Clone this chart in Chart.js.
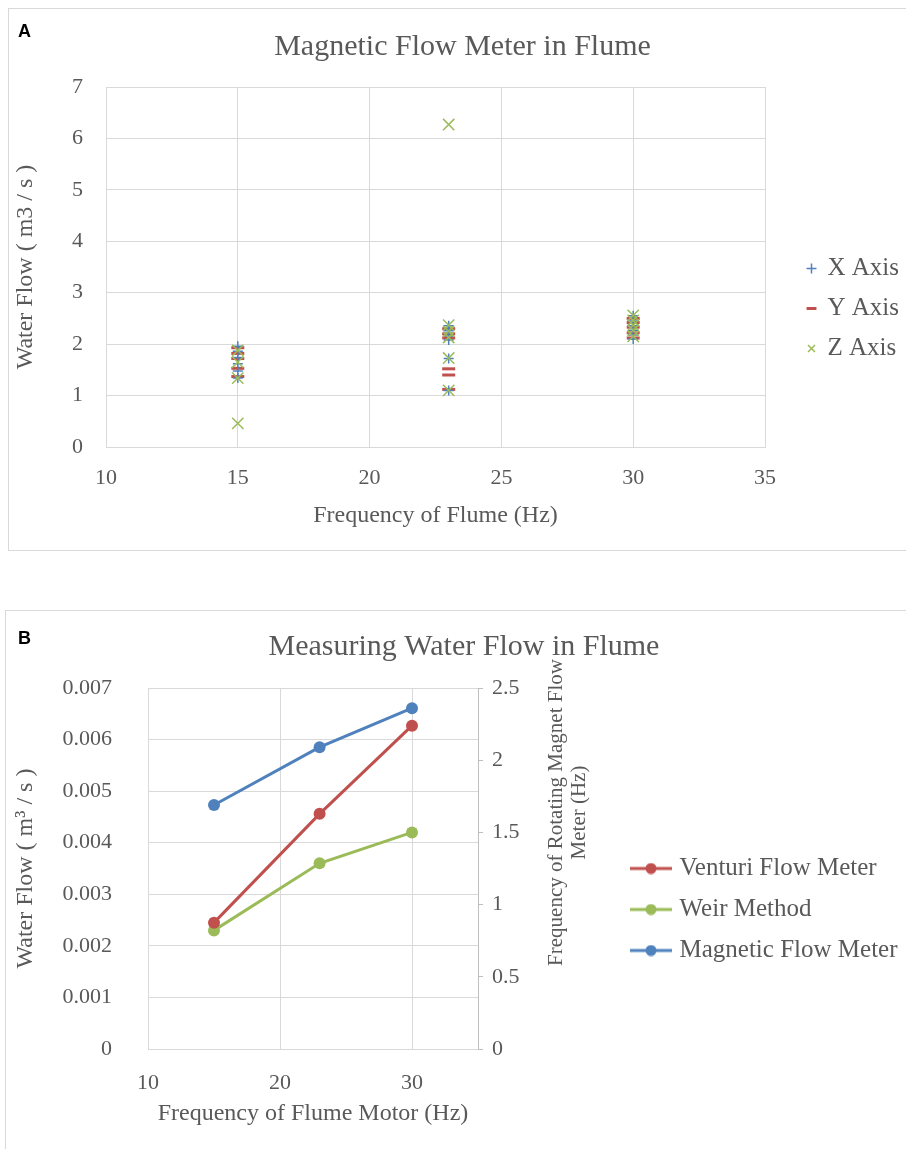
<!DOCTYPE html>
<html>
<head>
<meta charset="utf-8">
<script src="https://cdn.jsdelivr.net/npm/chart.js@4/dist/chart.umd.min.js"></script>
<style>
  body { margin: 0; background: #fff; overflow: hidden; }
  .panel { position: absolute; border: 1px solid #d9d9d9; border-right: none; }
  .tag { position: absolute; font: bold 18px 'Liberation Sans Narrow', 'Liberation Sans', sans-serif; color: #000; line-height: 1; }
  canvas { position: absolute; left: 0; top: 0; }
</style>
</head>
<body>
<div class="panel" style="left:8px; top:8px; width:898px; height:541px;">
  <canvas id="chartA" width="897" height="540"></canvas>
</div>
<div class="panel" style="left:5px; top:610px; width:901px; height:545px; border-bottom:none;">
  <canvas id="chartB" width="900" height="538"></canvas>
</div>
<div class="tag" style="left:18px; top:22px;">A</div>
<div class="tag" style="left:18px; top:629px;">B</div>
<script>
// ---- chart A: magnetic flow meter readings per axis ----
const xAxisFreq = [15, 15, 15, 15, 15, 15, 23, 23, 23, 23, 23, 23, 30, 30, 30, 30, 30, 30];
const xAxisFlow = [1.96, 1.86, 1.74, 1.62, 1.48, 1.34, 2.36, 2.26, 2.16, 2.08, 1.72, 1.1, 2.55, 2.45, 2.36, 2.27, 2.18, 2.1];
const yAxisFreq = [15, 15, 15, 15, 15, 23, 23, 23, 23, 23, 23, 30, 30, 30, 30, 30];
const yAxisFlow = [1.93, 1.82, 1.72, 1.53, 1.37, 2.3, 2.2, 2.12, 1.52, 1.4, 1.12, 2.5, 2.42, 2.33, 2.22, 2.12];
const zAxisFreq = [15, 15, 15, 15, 23, 23, 23, 23, 23, 23, 30, 30, 30, 30, 30];
const zAxisFlow = [1.88, 1.65, 1.34, 0.46, 6.27, 2.37, 2.25, 2.13, 1.73, 1.1, 2.56, 2.46, 2.37, 2.27, 2.15];
const xTicksA = [10, 15, 20, 25, 30, 35];
const yTicksA = [0, 1, 2, 3, 4, 5, 6, 7];

// ---- chart B: flow by method ----
const motorFreq = [15, 23, 30];
const venturi = [0.00245, 0.00456, 0.00627];
const weir = [0.0023, 0.0036, 0.0042];
const magnetic = [1.69, 2.09, 2.36];
const xTicksB = [10, 20, 30];
const yTicksB = [0, 0.001, 0.002, 0.003, 0.004, 0.005, 0.006, 0.007];
const y2TicksB = [0, 0.5, 1, 1.5, 2, 2.5];
const rightTitleLines = ['Frequency of Rotating Magnet Flow', 'Meter (Hz)'];

const BLUE = '#4f81bd', RED = '#c0504d', GREEN = '#9bbb59';
const TEXT = '#595959', GRID = '#d9d9d9';
const SERIF = "'Liberation Serif', 'Times New Roman', serif";

Chart.defaults.font.family = SERIF;
Chart.defaults.color = TEXT;

const pts = (xs, ys) => xs.map((x, i) => ({x: x, y: ys[i]}));
const useTicks = list => axis => { axis.ticks = list.map(v => ({value: v})); };

// the layout caps side boxes at a fraction of the width; give the legend the room it needs
const legendWidth = {
    id: 'legendWidth',
    beforeLayout(chart, args, opts) {
        const lg = chart.legend;
        if (!lg || lg._fixedWidth) return;
        const fit = lg.fit;
        lg.fit = function () { fit.call(this); this.width = opts.width; };
        lg._fixedWidth = true;
    }
};

new Chart(document.getElementById('chartA'), {
    type: 'scatter',
    data: {
        datasets: [{
            label: 'X Axis',
            data: pts(xAxisFreq, xAxisFlow),
            pointStyle: 'cross',
            pointRadius: 5,
            borderColor: BLUE,
            backgroundColor: BLUE,
            borderWidth: 1.5,
            order: 1
        }, {
            label: 'Y Axis',
            data: pts(yAxisFreq, yAxisFlow),
            pointStyle: 'line',
            pointRadius: 6.5,
            borderColor: RED,
            backgroundColor: RED,
            borderWidth: 3,
            order: 2
        }, {
            label: 'Z Axis',
            data: pts(zAxisFreq, zAxisFlow),
            pointStyle: 'crossRot',
            pointRadius: 8,
            borderColor: GREEN,
            backgroundColor: GREEN,
            borderWidth: 1.5,
            order: 0
        }]
    },
    options: {
        responsive: false,
        animation: false,
        layout: {padding: {left: 10}},
        scales: {
            x: {
                min: 10, max: 35,
                afterBuildTicks: useTicks(xTicksA),
                grid: {color: GRID, drawTicks: false},
                border: {color: GRID},
                ticks: {padding: 18, font: {size: 22}},
                title: {display: true, text: 'Frequency of Flume (Hz)', font: {size: 24}, padding: {top: 4, bottom: 19}},
                afterFit: s => { s.height = 102; }
            },
            y: {
                min: 0, max: 7,
                afterBuildTicks: useTicks(yTicksA),
                grid: {color: GRID, drawTicks: false},
                border: {color: GRID},
                ticks: {padding: 23, font: {size: 22}},
                title: {display: true, text: 'Water Flow ( m3 / s )', font: {size: 24}, padding: {top: -8, bottom: 4}},
                afterFit: s => { s.width = 87; }
            },
            gap: {
                position: 'right',
                grid: {display: false},
                border: {display: false},
                ticks: {display: false},
                afterFit: s => { s.width = 28; }
            }
        },
        plugins: {
            title: {
                display: true,
                text: 'Magnetic Flow Meter in Flume',
                color: TEXT,
                font: {size: 30, weight: 'normal'},
                padding: {top: 20, bottom: 22}
            },
            legend: {
                position: 'right',
                align: 'start',
                title: {display: true, text: ' ', font: {size: 10, lineHeight: 1}, padding: {top: 222, bottom: 0}},
                labels: {
                    usePointStyle: true,
                    boxWidth: 7,
                    boxHeight: 7,
                    padding: 15,
                    color: TEXT,
                    font: {size: 25},
                    sort: (a, b) => a.datasetIndex - b.datasetIndex
                }
            },
            legendWidth: {width: 113},
            tooltip: {enabled: false}
        }
    },
    plugins: [legendWidth]
});

function legendMarker(color) {
    const c = document.createElement('canvas');
    c.width = 42; c.height = 12;
    const g = c.getContext('2d');
    g.strokeStyle = color; g.lineWidth = 3;
    g.beginPath(); g.moveTo(0, 6); g.lineTo(42, 6); g.stroke();
    g.fillStyle = color;
    g.beginPath(); g.arc(21, 6, 5.5, 0, Math.PI * 2); g.fill();
    return c;
}
const markers = [legendMarker(RED), legendMarker(GREEN), legendMarker(BLUE)];

const rightTitle = {
    id: 'rightTitle',
    afterDraw(chart) {
        const ctx = chart.ctx, s = chart.scales.y2, area = chart.chartArea;
        const cy = (area.top + area.bottom) / 2 - 56;
        ctx.save();
        ctx.fillStyle = TEXT;
        ctx.font = '21px ' + SERIF;
        ctx.textAlign = 'center';
        ctx.textBaseline = 'middle';
        rightTitleLines.forEach((t, i) => {
            ctx.save();
            ctx.translate(s.left + 78 + i * 23, cy);
            ctx.rotate(-Math.PI / 2);
            ctx.fillText(t, 0, 0);
            ctx.restore();
        });
        ctx.restore();
    }
};

new Chart(document.getElementById('chartB'), {
    type: 'line',
    data: {
        datasets: [{
            label: 'Venturi Flow Meter',
            data: pts(motorFreq, venturi),
            borderColor: RED, backgroundColor: RED,
            yAxisID: 'y'
        }, {
            label: 'Weir Method',
            data: pts(motorFreq, weir),
            borderColor: GREEN, backgroundColor: GREEN,
            yAxisID: 'y'
        }, {
            label: 'Magnetic Flow Meter',
            data: pts(motorFreq, magnetic),
            borderColor: BLUE, backgroundColor: BLUE,
            yAxisID: 'y2'
        }]
    },
    options: {
        responsive: false,
        animation: false,
        layout: {padding: {left: 16}},
        elements: {
            line: {borderWidth: 3, tension: 0},
            point: {radius: 6, borderWidth: 0}
        },
        scales: {
            x: {
                type: 'linear',
                min: 10, max: 35,
                afterBuildTicks: useTicks(xTicksB),
                grid: {color: GRID, drawTicks: false},
                border: {color: GRID},
                ticks: {padding: 21, font: {size: 22}},
                title: {display: true, text: 'Frequency of Flume Motor (Hz)', font: {size: 24}, padding: {top: 4, bottom: 21}},
                afterFit: s => { s.height = 100; }
            },
            y: {
                min: 0, max: 0.007,
                afterBuildTicks: useTicks(yTicksB),
                grid: {color: GRID, drawTicks: false},
                border: {color: GRID},
                ticks: {padding: 36, font: {size: 22}, callback: v => v === 0 ? '0' : v.toFixed(3)},
                title: {display: true, text: 'Water Flow ( m³ / s )', font: {size: 24}, padding: {top: -11, bottom: 4}},
                afterFit: s => { s.width = 126; }
            },
            y2: {
                position: 'right',
                min: 0, max: 2.5,
                afterBuildTicks: useTicks(y2TicksB),
                grid: {drawOnChartArea: false, drawTicks: true, tickLength: 5, color: '#bfbfbf'},
                border: {color: '#bfbfbf'},
                ticks: {padding: 9, font: {size: 22}, callback: v => String(v)},
                afterFit: s => { s.width = 141; }
            }
        },
        plugins: {
            title: {
                display: true,
                text: 'Measuring Water Flow in Flume',
                color: TEXT,
                font: {size: 30, weight: 'normal'},
                padding: {top: 18, bottom: 23}
            },
            legend: {
                position: 'right',
                align: 'start',
                title: {display: true, text: ' ', font: {size: 10, lineHeight: 1}, padding: {top: 219, bottom: 0}},
                labels: {
                    usePointStyle: true,
                    pointStyleWidth: 32,
                    padding: 16,
                    color: TEXT,
                    font: {size: 25},
                    generateLabels: chart => Chart.defaults.plugins.legend.labels.generateLabels(chart)
                        .map(l => Object.assign(l, {pointStyle: markers[l.datasetIndex]}))
                }
            },
            legendWidth: {width: 287},
            tooltip: {enabled: false}
        }
    },
    plugins: [legendWidth, rightTitle]
});
</script>
</body>
</html>
